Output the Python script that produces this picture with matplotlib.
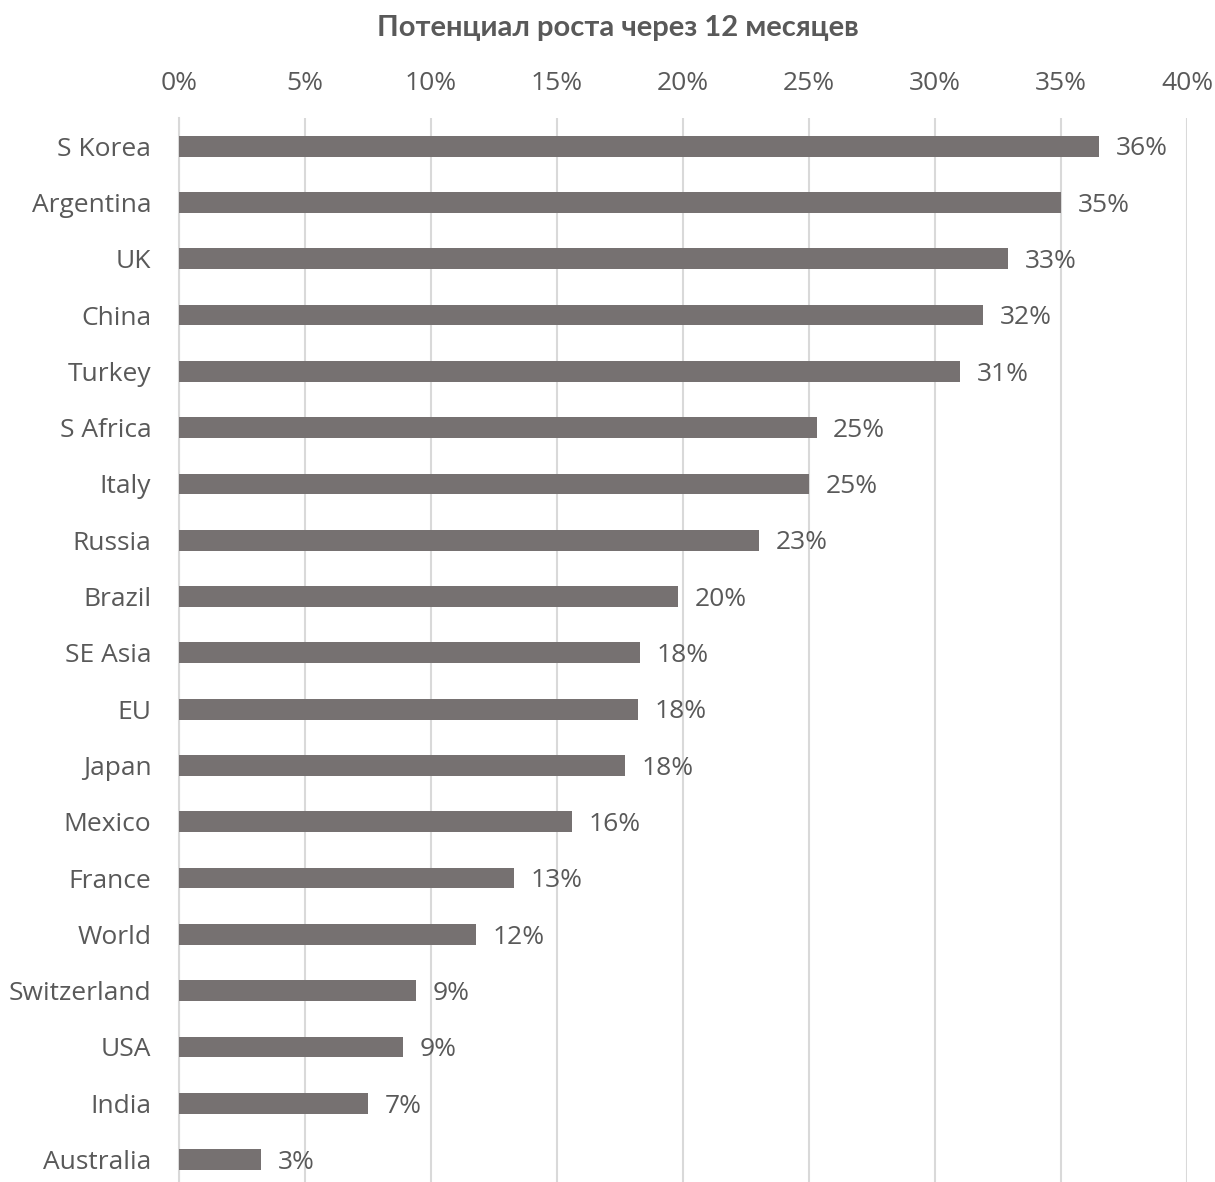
import matplotlib
matplotlib.use("Agg")
import matplotlib.pyplot as plt
from matplotlib.ticker import FuncFormatter

# data
countries = ["S Korea", "Argentina", "UK", "China", "Turkey", "S Africa", "Italy",
             "Russia", "Brazil", "SE Asia", "EU", "Japan", "Mexico", "France",
             "World", "Switzerland", "USA", "India", "Australia"]
growth = [36.5, 35.0, 32.9, 31.9, 31.0, 25.3, 25.0, 23.0, 19.8, 18.3, 18.2, 17.7,
          15.6, 13.3, 11.8, 9.4, 8.9, 7.5, 3.25]
labels = ["36%", "35%", "33%", "32%", "31%", "25%", "25%", "23%", "20%", "18%",
          "18%", "18%", "16%", "13%", "12%", "9%", "9%", "7%", "3%"]
title = "Потенциал роста через 12 месяцев"

text_col = "#595959"
bar_col = "#767171"
grid_col = "#d9d9d9"

plt.rcParams['font.family'] = ['Open Sans', 'DejaVu Sans']

fig = plt.figure(figsize=(12.15, 11.82), dpi=100)
ax = fig.add_axes([179 / 1215, -0.0048, (1187 - 179) / 1215, 0.9050])

ypos = list(range(len(countries)))
ax.barh(ypos, growth, height=0.37, color=bar_col, zorder=3)
for y, v, lab in zip(ypos, growth, labels):
    ax.annotate(lab, (v, y), xytext=(12, -2), textcoords="offset points",
                va="center", ha="left", fontsize=19, color=text_col)

ax.set_xlim(0, 40)
ax.set_ylim(len(countries) - 0.5, -0.5)
ax.set_yticks(ypos)
ax.set_yticklabels(countries)
ax.set_xticks(range(0, 41, 5))
ax.xaxis.set_major_formatter(FuncFormatter(lambda x, p: f"{x:.0f}%"))
ax.xaxis.tick_top()
ax.tick_params(axis="both", length=0, labelsize=19, labelcolor=text_col)
ax.tick_params(axis="x", pad=16)
ax.tick_params(axis="y", pad=20)
ax.grid(axis="x", color=grid_col, linewidth=1.5, zorder=0)
for s in ["top", "right", "bottom"]:
    ax.spines[s].set_visible(False)
ax.spines["left"].set_color(grid_col)
ax.spines["left"].set_linewidth(1.5)

fig.text(618 / 1215, 1 - 28 / 1182, title, ha="center", va="center",
         fontsize=21, fontweight="bold", color=text_col,
         family=['Lato', 'DejaVu Sans'])

fig.savefig("out.png", dpi=100)
